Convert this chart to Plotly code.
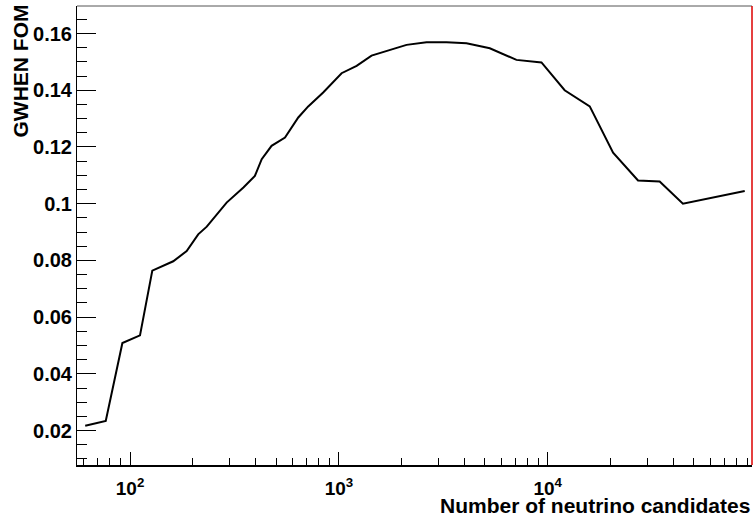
import plotly.graph_objects as go

# Figure of merit versus number of neutrino candidates
n_candidates = [61.0, 76.5, 91.9, 111.6, 127.8, 161, 186.7, 212, 233, 290, 349, 396,
                427, 476, 552, 639, 713, 841, 1030, 1216, 1433, 1753, 2108, 2628,
                3275, 4083, 5279, 7080, 9330, 12050, 15890, 20550, 27060, 34350,
                44390, 87740]
fom = [0.0217, 0.0234, 0.0509, 0.0536, 0.0764, 0.0797, 0.0833, 0.0892, 0.0919,
       0.1004, 0.1057, 0.1098, 0.1157, 0.1204, 0.1233, 0.1304, 0.1343, 0.1392,
       0.1460, 0.1486, 0.1522, 0.1543, 0.1560, 0.1569, 0.1569, 0.1566, 0.1548,
       0.1507, 0.1498, 0.1400, 0.1343, 0.1180, 0.1082, 0.1078, 0.1000, 0.1045]

x_major = [100, 1000, 10000]
x_major_text = ["10<sup>2</sup>", "10<sup>3</sup>", "10<sup>4</sup>"]
x_minor = [60, 70, 80, 90] + [m * 10 ** e for e in (2, 3) for m in range(2, 10)] + \
          [m * 10 ** 4 for m in range(2, 10)]
y_major = [0.02, 0.04, 0.06, 0.08, 0.10, 0.12, 0.14, 0.16]
y_major_text = ["0.02", "0.04", "0.06", "0.08", "0.1", "0.12", "0.14", "0.16"]
y_minor = [round(0.005 * k, 3) for k in range(2, 34)]

FONT = "Liberation Sans, Arial, sans-serif"

fig = go.Figure()
fig.add_trace(go.Scatter(x=n_candidates, y=fom, mode="lines",
                         line=dict(color="black", width=2), showlegend=False))

fig.update_layout(
    width=754, height=517,
    margin=dict(l=77, r=2, t=6, b=52),
    paper_bgcolor="white", plot_bgcolor="white",
    font=dict(family=FONT, color="black"),
    xaxis=dict(type="log", range=[1.746, 4.978],
               tickmode="array", tickvals=x_major, ticktext=x_major_text,
               ticks="inside", ticklen=13, tickwidth=1, tickcolor="black",
               tickfont=dict(family=FONT, size=19, weight="bold"),
               ticklabelstandoff=5,
               minor=dict(tickmode="array", tickvals=x_minor, ticks="inside",
                          ticklen=7, tickwidth=1, tickcolor="black", showgrid=False),
               showline=True, linecolor="black", linewidth=2,
               showgrid=False, zeroline=False),
    yaxis=dict(range=[0.00788, 0.1697],
               tickmode="array", tickvals=y_major, ticktext=y_major_text,
               ticks="inside", ticklen=19, tickwidth=1, tickcolor="black",
               tickfont=dict(family=FONT, size=20, weight="bold"),
               minor=dict(tickmode="array", tickvals=y_minor, ticks="inside",
                          ticklen=10, tickwidth=1, tickcolor="black", showgrid=False),
               showline=True, linecolor="black", linewidth=1,
               showgrid=False, zeroline=False),
)

# frame: grey top edge and red right edge
fig.add_shape(type="line", xref="paper", yref="paper", x0=0, x1=1, y0=1, y1=1,
              line=dict(color="#555555", width=1))
fig.add_shape(type="line", xref="paper", yref="paper", x0=1, x1=1, y0=0, y1=1,
              line=dict(color="#dd0000", width=1.5))

# axis titles
fig.add_annotation(text="Number of neutrino candidates", xref="paper", yref="paper",
                   x=1, y=0, xanchor="right", yanchor="top", yshift=-27, showarrow=False,
                   font=dict(family=FONT, size=21, weight="bold"))
fig.add_annotation(text="GWHEN FOM", xref="paper", yref="paper", textangle=-90,
                   x=(20 - 77) / 675, y=1, xanchor="center", yanchor="top", yshift=3,
                   showarrow=False, font=dict(family=FONT, size=21, weight="bold"))

fig.write_html("out.html")
